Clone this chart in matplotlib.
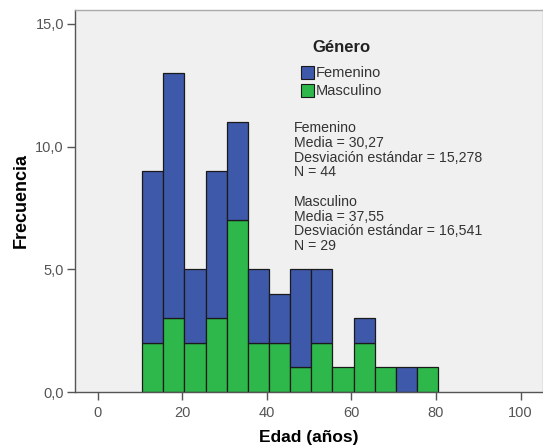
import matplotlib
matplotlib.use("Agg")
import matplotlib.pyplot as plt
from matplotlib.patches import Rectangle

plt.rcParams['font.family'] = ['Liberation Sans', 'DejaVu Sans']

bin_start = 10.5
bin_width = 5
masculino = [2, 3, 2, 3, 7, 2, 2, 1, 2, 1, 2, 1, 0, 1]
femenino = [7, 10, 3, 6, 4, 3, 2, 4, 3, 0, 1, 0, 1, 0]
x_ticks = [0, 20, 40, 60, 80, 100]
y_ticks = [0, 5, 10, 15]
y_tick_labels = ["0,0", "5,0", "10,0", "15,0"]
legend_labels = ["Femenino", "Masculino"]
stats_text = ("Femenino\nMedia = 30,27\nDesviación estándar = 15,278\nN = 44\n\n"
              "Masculino\nMedia = 37,55\nDesviación estándar = 16,541\nN = 29")

blue = "#3e58aa"
green = "#2eb84b"

W, H = 543, 446
def fx(px):
    return px / W
def fy(py):
    return 1 - py / H

fig = plt.figure(figsize=(W/100, H/100), dpi=100)
ax = fig.add_axes([fx(75), fy(392), 1-fx(75), (392-10)/H])
ax.set_facecolor("#f0f0f0")

lefts = [bin_start + i*bin_width for i in range(len(masculino))]
for l, m, f in zip(lefts, masculino, femenino):
    if m > 0:
        ax.bar(l, m, width=bin_width, align='edge', color=green, edgecolor="#1a1a1a", linewidth=0.9)
    if f > 0:
        ax.bar(l, f, width=bin_width, bottom=m, align='edge', color=blue, edgecolor="#1a1a1a", linewidth=0.9)

ax.set_xlim(-5.4, 105.3)
ax.set_ylim(0, 15.57)
ax.set_xticks(x_ticks)
ax.set_xticklabels([str(t) for t in x_ticks])
ax.set_yticks(y_ticks)
ax.set_yticklabels(y_tick_labels)
ax.tick_params(axis='both', direction='out', length=6, width=1, color="#555555",
               labelcolor="#555555", labelsize=10.5)
ax.tick_params(axis='x', pad=4)
ax.tick_params(axis='y', pad=2)
for s in ['left', 'bottom']:
    ax.spines[s].set_color("#555555")
    ax.spines[s].set_linewidth(1)
for s in ['top', 'right']:
    ax.spines[s].set_color("#aaaaaa")
    ax.spines[s].set_linewidth(1)

ax.set_xlabel("Edad (años)", fontsize=12.5, fontweight='bold', labelpad=7)
ax.set_ylabel("Frecuencia", fontsize=13, fontweight='bold', labelpad=4)

# Legend (drawn manually to match layout)
fig.text(fx(312), fy(47), "Género", fontsize=12, fontweight='bold', color="#222222",
         va='center', ha='left')
colors = [blue, green]
for i, (lab, c) in enumerate(zip(legend_labels, colors)):
    ytop = 66 + i*18
    fig.patches.append(Rectangle((fx(301), fy(ytop+13)), 13/W, 13/H, transform=fig.transFigure,
                                 facecolor=c, edgecolor="#1a1a1a", linewidth=0.8))
    fig.text(fx(316), fy(ytop+7), lab, fontsize=10.5, color="#333333", va='center', ha='left')

fig.text(fx(294), fy(121), stats_text, fontsize=10.2, color="#333333", va='top', ha='left',
         linespacing=1.07)

fig.savefig("out.png", dpi=100)
